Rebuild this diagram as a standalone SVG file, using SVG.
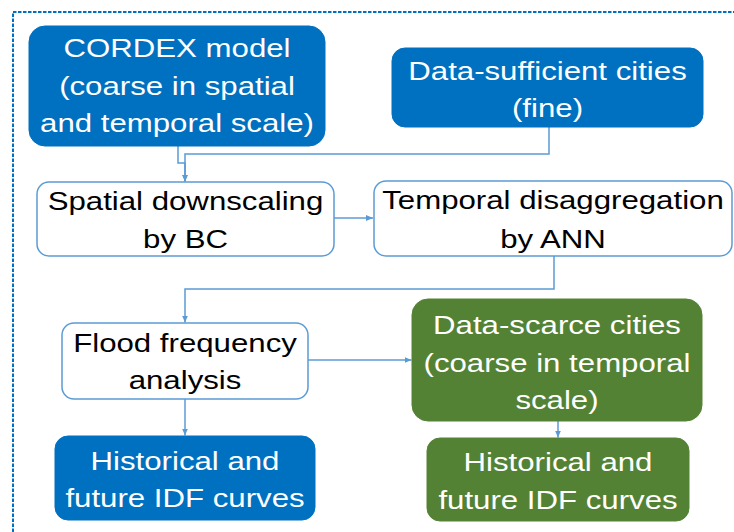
<svg xmlns="http://www.w3.org/2000/svg" width="734" height="532" viewBox="0 0 734 532">
<defs>
<style>
.blue{fill:#0070C0;stroke:#0070C0;stroke-width:1}
.green{fill:#548235;stroke:#548235;stroke-width:1}
.white{fill:#FFFFFF;stroke:#5B9BD5;stroke-width:1.5}
text{font-family:"Liberation Sans",Arial,sans-serif;font-size:26px;text-anchor:middle}
.lt{fill:#FFFFFF}
.dk{fill:#000000}
.conn{fill:none;stroke:#5B9BD5;stroke-width:1.5}
</style>
<marker id="arr" markerWidth="8" markerHeight="8" refX="7" refY="4" orient="auto" markerUnits="userSpaceOnUse">
<path d="M0,1 L7,4 L0,7 Z" fill="#5B9BD5"/>
</marker>
</defs>
<rect width="734" height="532" fill="#FFFFFF"/>
<rect x="13" y="12" width="740" height="540" fill="none" stroke="#0070C0" stroke-width="2" stroke-dasharray="3.5,1.5"/>

<g id="connectors">
<path class="conn" d="M178,146 V163 H185 V181.5" marker-end="url(#arr)"/>
<path class="conn" d="M549,127 V154 H185 V181.5" marker-end="url(#arr)"/>
<path class="conn" d="M334,218 H373" marker-end="url(#arr)"/>
<path class="conn" d="M554,256 V289 H185 V322.5" marker-end="url(#arr)"/>
<path class="conn" d="M308,360 H411.5" marker-end="url(#arr)"/>
<path class="conn" d="M185,399 V435.5" marker-end="url(#arr)"/>
<path class="conn" d="M558,421 V437.5" marker-end="url(#arr)"/>
</g>

<g id="cordex">
<rect class="blue" x="29" y="26" width="296" height="120" rx="16"/>
<g transform="matrix(1.2 0 0 1 177 0)">
<text class="lt" x="0" y="57">CORDEX model</text>
<text class="lt" x="0" y="95">(coarse in spatial</text>
<text class="lt" x="0" y="132">and temporal scale)</text>
</g>
</g>

<g id="datasufficient">
<rect class="blue" x="392" y="48" width="311" height="79" rx="13"/>
<g transform="matrix(1.2 0 0 1 547.5 0)">
<text class="lt" x="0" y="80">Data-sufficient cities</text>
<text class="lt" x="0" y="117">(fine)</text>
</g>
</g>

<g id="spatial">
<rect class="white" x="37" y="182" width="297" height="74" rx="12"/>
<g transform="matrix(1.2 0 0 1 185.5 0)">
<text class="dk" x="0" y="210">Spatial downscaling</text>
<text class="dk" x="0" y="248">by BC</text>
</g>
</g>

<g id="temporal">
<rect class="white" x="374" y="181" width="358" height="75" rx="12"/>
<g transform="matrix(1.2 0 0 1 553 0)">
<text class="dk" x="0" y="209">Temporal disaggregation</text>
<text class="dk" x="0" y="248">by ANN</text>
</g>
</g>

<g id="flood">
<rect class="white" x="62" y="323" width="246" height="76" rx="12"/>
<g transform="matrix(1.2 0 0 1 185 0)">
<text class="dk" x="0" y="352">Flood frequency</text>
<text class="dk" x="0" y="389">analysis</text>
</g>
</g>

<g id="historical-blue">
<rect class="blue" x="55" y="436" width="260" height="84" rx="13"/>
<g transform="matrix(1.2 0 0 1 185 0)">
<text class="lt" x="0" y="470">Historical and</text>
<text class="lt" x="0" y="507">future IDF curves</text>
</g>
</g>

<g id="datascarce">
<rect class="green" x="412" y="299" width="290" height="122" rx="16"/>
<g transform="matrix(1.2 0 0 1 557 0)">
<text class="lt" x="0" y="334">Data-scarce cities</text>
<text class="lt" x="0" y="372">(coarse in temporal</text>
<text class="lt" x="0" y="409">scale)</text>
</g>
</g>

<g id="historical-green">
<rect class="green" x="427" y="438" width="262" height="83" rx="13"/>
<g transform="matrix(1.2 0 0 1 558 0)">
<text class="lt" x="0" y="471">Historical and</text>
<text class="lt" x="0" y="509">future IDF curves</text>
</g>
</g>
</svg>
